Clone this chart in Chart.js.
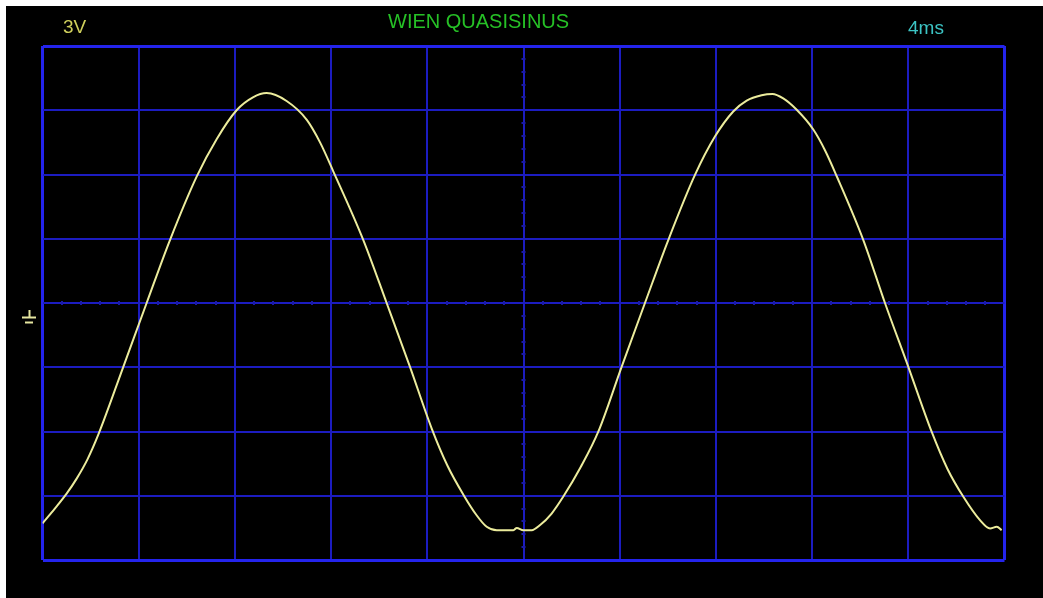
<!DOCTYPE html>
<html>
<head>
<meta charset="utf-8">
<title>WIEN QUASISINUS</title>
<script src="https://cdn.jsdelivr.net/npm/chart.js@4/dist/chart.umd.min.js"></script>
<style>
  html, body { margin: 0; padding: 0; background: #ffffff; }
  #screen { position: absolute; left: 6px; top: 6px; width: 1037px; height: 592px; background: #000000; }
</style>
</head>
<body>
<div id="screen"><canvas id="scope"></canvas></div>
<script>
// Sampled trace: time in ms, voltage in V
const timeMs = [0, 0.52, 1.01, 1.42, 1.87, 2.32, 3.36, 4.33, 5.30, 6.41, 7.24, 8.07, 8.75, 9.32, 10.15, 10.99,
  11.54, 12.09, 13.34, 14.31, 15.28, 16.18, 16.84, 17.50, 18.05, 18.47, 18.89, 19.58, 19.72, 19.99, 20.34, 20.69,
  21.17, 21.65, 22.38, 23.11, 24.08, 25.05, 26.02, 27.13, 27.96, 28.72, 29.28, 29.90, 30.35, 30.80, 31.36, 32.05,
  32.55, 33.02, 34.13, 35.03, 36.00, 36.97, 37.63, 38.29, 38.98, 39.40, 39.68, 39.88];
const volts = [-10.29, -9.59, -8.89, -8.20, -7.30, -6.15, -2.98, 0.00, 2.94, 5.90, 7.65, 9.00, 9.60, 9.80, 9.43, 8.55,
  7.50, 6.15, 2.94, 0.00, -2.98, -5.85, -7.60, -8.95, -9.91, -10.45, -10.61, -10.61, -10.50, -10.61, -10.61, -10.37,
  -9.83, -9.05, -7.66, -6.01, -2.98, 0.00, 2.94, 5.98, 7.77, 8.94, 9.45, 9.70, 9.76, 9.55, 9.02, 8.10,
  7.10, 5.93, 2.94, 0.00, -2.98, -6.01, -7.75, -9.05, -10.14, -10.53, -10.45, -10.61];

// Screen settings
const msPerDiv = 4;
const voltsPerDiv = 3;
const divisionsX = 10;
const divisionsY = 8;
const minorPerDiv = 5;

// Screen captions
const channelLabel = '3V';
const titleLabel = 'WIEN QUASISINUS';
const timebaseLabel = '4ms';

const xMax = msPerDiv * divisionsX;
const yMax = voltsPerDiv * divisionsY / 2;

const frameColor = '#2424ec';
const gridColor = '#1c1cc0';

function isEdge(value, lo, hi) { return Math.abs(value - lo) < 1e-6 || Math.abs(value - hi) < 1e-6; }

const scopePlugin = {
  id: 'scopeScreen',
  beforeDraw(chart) {
    const ctx = chart.ctx;
    ctx.save();
    ctx.fillStyle = '#000000';
    ctx.fillRect(0, 0, chart.width, chart.height);
    ctx.restore();
  },
  beforeDatasetsDraw(chart) {
    // minor tick marks along the two centre lines
    const ctx = chart.ctx, xs = chart.scales.x, ys = chart.scales.y;
    const x0 = xs.getPixelForValue(xMax / 2), y0 = ys.getPixelForValue(0);
    ctx.save();
    ctx.strokeStyle = '#1a1aa8';
    ctx.lineWidth = 2;
    const stepX = msPerDiv / minorPerDiv;
    for (let i = 1; i < divisionsX * minorPerDiv; i++) {
      if (i % minorPerDiv === 0) continue;
      const px = Math.round(xs.getPixelForValue(i * stepX));
      ctx.beginPath(); ctx.moveTo(px, y0 - 2); ctx.lineTo(px, y0 + 2); ctx.stroke();
    }
    const stepY = voltsPerDiv / minorPerDiv;
    for (let j = 1; j < divisionsY * minorPerDiv; j++) {
      if (j % minorPerDiv === 0) continue;
      const py = Math.round(ys.getPixelForValue(-yMax + j * stepY));
      ctx.beginPath(); ctx.moveTo(x0 - 2, py); ctx.lineTo(x0 + 2, py); ctx.stroke();
    }
    ctx.restore();
  },
  afterDraw(chart) {
    const ctx = chart.ctx, ys = chart.scales.y;
    ctx.save();
    ctx.textBaseline = 'alphabetic';
    ctx.textAlign = 'left';
    ctx.font = '19px "Liberation Sans", Arial, sans-serif';
    ctx.fillStyle = '#cfcf5c';
    ctx.fillText(channelLabel, 57, 27);
    ctx.font = '20px "Liberation Sans", Arial, sans-serif';
    ctx.fillStyle = '#26c026';
    ctx.fillText(titleLabel, 382, 22);
    ctx.font = '19px "Liberation Sans", Arial, sans-serif';
    ctx.fillStyle = '#3cc4c4';
    ctx.fillText(timebaseLabel, 902, 28);

    // ground reference marker below the 0 V level
    const g = ys.getPixelForValue(0);
    ctx.strokeStyle = '#e6e6a0';
    ctx.lineWidth = 2;
    ctx.beginPath();
    ctx.moveTo(23.5, g + 7); ctx.lineTo(23.5, g + 14);
    ctx.moveTo(16, g + 14.5); ctx.lineTo(30, g + 14.5);
    ctx.moveTo(19, g + 19.5); ctx.lineTo(27, g + 19.5);
    ctx.stroke();
    ctx.restore();
  }
};

const points = timeMs.map((t, i) => ({ x: t, y: volts[i] }));

new Chart(document.getElementById('scope'), {
  type: 'line',
  data: {
    datasets: [{
      label: titleLabel,
      data: points,
      borderColor: '#ecec9c',
      borderWidth: 2,
      pointRadius: 0,
      fill: false,
      cubicInterpolationMode: 'monotone'
    }]
  },
  options: {
    responsive: true,
    maintainAspectRatio: false,
    animation: false,
    layout: { padding: { left: 36.5, right: 38.5, top: 40, bottom: 38 } },
    plugins: { legend: { display: false }, tooltip: { enabled: false } },
    scales: {
      x: {
        type: 'linear', min: 0, max: xMax,
        ticks: { display: false, stepSize: msPerDiv },
        border: { display: false },
        grid: {
          drawTicks: false,
          color: c => isEdge(c.tick.value, 0, xMax) ? frameColor : gridColor,
          lineWidth: c => isEdge(c.tick.value, 0, xMax) ? 3 : 2
        }
      },
      y: {
        type: 'linear', min: -yMax, max: yMax,
        ticks: { display: false, stepSize: voltsPerDiv },
        border: { display: false },
        grid: {
          drawTicks: false,
          color: c => isEdge(c.tick.value, -yMax, yMax) ? frameColor : gridColor,
          lineWidth: c => isEdge(c.tick.value, -yMax, yMax) ? 3 : 2
        }
      }
    }
  },
  plugins: [scopePlugin]
});
</script>
</body>
</html>
